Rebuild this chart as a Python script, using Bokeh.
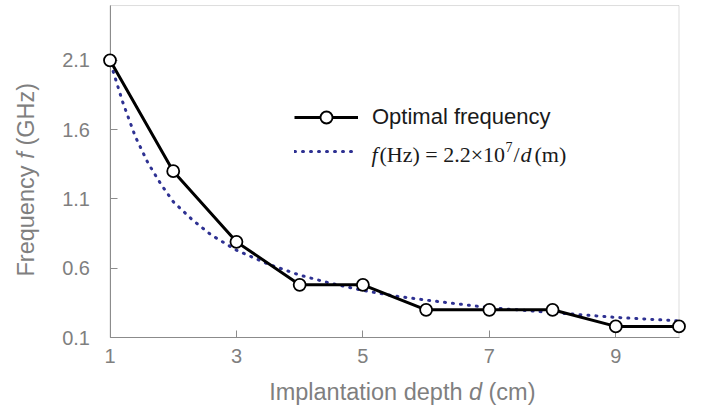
import math
from bokeh.plotting import figure
from bokeh.models import (LinearAxis, FixedTicker, BoxAnnotation, Label,
                          Legend, LegendItem)
from bokeh.embed import file_html
from bokeh.resources import INLINE

# ---- data ----
depth = [1, 2, 3, 4, 5, 6, 7, 8, 9, 10]
freq_opt = [2.1, 1.3, 0.79, 0.48, 0.48, 0.30, 0.30, 0.30, 0.18, 0.18]

fit_depth = [1.05, 1.2, 1.4, 1.6, 1.8, 2.0, 2.3, 2.6, 3.0, 3.5, 4.0, 4.5,
             5.0, 5.5, 6.0, 7.0, 8.0, 9.0, 10.0]
fit_freq = [2.02, 1.80, 1.55, 1.36, 1.21, 1.08, 0.95, 0.84, 0.73, 0.63, 0.55,
            0.49, 0.44, 0.40, 0.37, 0.315, 0.28, 0.245, 0.22]

x_ticks = [1, 3, 5, 7, 9]
y_ticks = [0.1, 0.6, 1.1, 1.6, 2.1]
x_box = (1, 10)
y_box = (0.1, 2.495)

legend_label_1 = "Optimal frequency"

# ---- styles ----
AX = "#8c8c8c"
TXT = "#7f7f7f"
DARK = "#1a1a1a"
NAVY = "#2e3192"
SANS = "Liberation Sans"
SERIF = "Liberation Serif"

W, H = 700, 410
# frame fills the whole canvas; axes sit at fixed data locations inside it
p = figure(width=W, height=H, x_range=(-0.732, 10.34), y_range=(-0.4267, 2.5315),
           x_axis_type=None, y_axis_type=None, toolbar_location=None,
           output_backend="svg", min_border_left=0, min_border_right=0,
           min_border_top=0, min_border_bottom=0)
p.outline_line_color = None
p.background_fill_color = "white"
p.border_fill_color = "white"

box = BoxAnnotation(left=x_box[0], right=x_box[1], bottom=y_box[0], top=y_box[1],
                    fill_color=None, fill_alpha=0, line_color=AX, line_width=1,
                    level="underlay")
p.add_layout(box)

xaxis = LinearAxis(ticker=FixedTicker(ticks=x_ticks), bounds=x_box,
                   fixed_location=y_box[0])
yaxis = LinearAxis(ticker=FixedTicker(ticks=y_ticks), bounds=y_box,
                   fixed_location=x_box[0])
for ax in (xaxis, yaxis):
    ax.level = "underlay"
    ax.axis_line_color = AX
    ax.major_tick_line_color = AX
    ax.major_tick_in = 7
    ax.major_tick_out = 0
    ax.minor_tick_line_color = None
    ax.major_label_text_font = SANS
    ax.major_label_text_font_size = "20px"
    ax.major_label_text_color = TXT
xaxis.major_label_standoff = 11
yaxis.major_label_standoff = 20
p.add_layout(xaxis, "below")
p.add_layout(yaxis, "left")

r_fit = p.line(fit_depth, fit_freq, line_color=NAVY, line_width=3,
               line_dash="1 7", line_cap="round")
r_line = p.line(depth, freq_opt, line_color="black", line_width=3)
r_pts = p.scatter(depth, freq_opt, marker="circle", size=12, fill_color="white",
                  line_color="black", line_width=1.8)

legend = Legend(items=[LegendItem(label=legend_label_1, renderers=[r_line, r_pts]),
                       LegendItem(label=" ", renderers=[r_fit])],
                location=(294, 244), glyph_width=64, glyph_height=30,
                label_standoff=14, spacing=4, padding=0, margin=0,
                border_line_color=None, background_fill_alpha=0,
                label_text_font=SANS, label_text_font_size="22px",
                label_text_color=DARK)
p.add_layout(legend)


def lab(x, y, text, size, style="normal", font=SANS, color=TXT, align="left",
        baseline="middle", angle=0.0):
    p.add_layout(Label(x=x, y=y, x_units="screen", y_units="screen", text=text,
                       text_font=font, text_font_size=f"{size}px",
                       text_font_style=style, text_color=color,
                       text_align=align, text_baseline=baseline, angle=angle))


# x-axis title with italic d
xd, yx = 475, 19
lab(xd, yx, "d", 23.5, style="italic", align="center")
lab(xd - 13, yx, "Implantation depth", 23.5, align="right")
lab(xd + 13, yx, "(cm)", 23.5, align="left")

# y-axis title with italic f (rotated)
xf, yf = 25, 255
lab(xf, yf, "f", 23.5, style="italic", align="center", angle=math.pi / 2)
lab(xf, yf - 10, "Frequency", 23.5, align="right", angle=math.pi / 2)
lab(xf, yf + 10, "(GHz)", 23.5, align="left", angle=math.pi / 2)

# formula legend text
bx, by = 371, 256
lab(bx, by, "f", 22, style="italic", font=SERIF, color=DARK, baseline="alphabetic")
lab(bx + 8, by, "(Hz) = 2.2×10", 22, font=SERIF, color=DARK, baseline="alphabetic")
lab(bx + 134, by + 8, "7", 14, font=SERIF, color=DARK, baseline="alphabetic")
lab(bx + 142, by, "/", 22, font=SERIF, color=DARK, baseline="alphabetic")
lab(bx + 149, by, "d", 22, style="italic", font=SERIF, color=DARK, baseline="alphabetic")
lab(bx + 163, by, "(m)", 22, font=SERIF, color=DARK, baseline="alphabetic")

open("out.html", "w").write(file_html(p, INLINE))
